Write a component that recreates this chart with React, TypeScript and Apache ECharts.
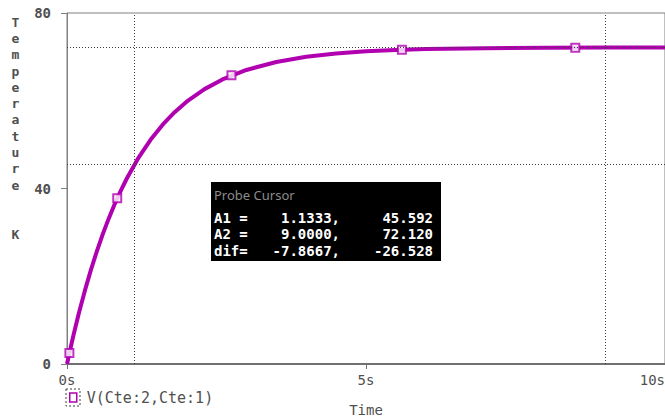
import React, { useEffect, useRef } from "react";
import * as echarts from "echarts";

// Time (s) and temperature (K)
const timeS = [0, 0.1, 0.2, 0.3, 0.4, 0.5, 0.6, 0.7, 0.8, 0.9, 1.0, 1.2, 1.4, 1.6, 1.8, 2.0, 2.3, 2.6, 3.0, 3.5, 4.0, 4.5, 5.0, 5.5, 6.0, 7.0, 8.0, 9.0, 10.0];
const tempK = [0, 6.09, 11.67, 16.77, 21.45, 25.73, 29.65, 33.24, 36.52, 39.53, 42.28, 47.11, 51.16, 54.55, 57.4, 59.78, 62.65, 64.86, 67.02, 68.84, 70.01, 70.77, 71.26, 71.57, 71.77, 71.98, 72.07, 72.12, 72.13];

// Marker squares on the trace
const markerTime = [0.04, 0.84, 2.75, 5.6, 8.5];
const markerTemp = [2.5, 37.8, 65.8, 71.6, 72.1];

// Probe cursor readings [time, temperature]
const cursorA1 = [1.1333, 45.592];
const cursorA2 = [9.0, 72.12];

const xTicks = [0, 5, 10];
const yTicks = [0, 40, 80];
const seriesName = "V(Cte:2,Cte:1)";
const yTitle = "Temperature\u0020K";

const MONO = "'DejaVu Sans Mono', monospace";
const TEXT = "#505050";
const TRACE = "#b000b0";

export default function App() {
  const ref = useRef<HTMLDivElement>(null);

  useEffect(() => {
    if (!ref.current) return;
    const chart = echarts.init(ref.current, null, { renderer: "svg" });

    const dif = [cursorA1[0] - cursorA2[0], cursorA1[1] - cursorA2[1]];
    const rows = [
      ["A1 =", cursorA1[0].toFixed(4) + ",", cursorA1[1].toFixed(3)],
      ["A2 =", cursorA2[0].toFixed(4) + ",", cursorA2[1].toFixed(3)],
      ["dif=", dif[0].toFixed(4) + ",", dif[1].toFixed(3)],
    ];
    const rowY = [218, 234, 251];

    const titleChars = yTitle.replace(" ", "\n").split("").join("\n");

    const boxTexts: any[] = [];
    rows.forEach((r, i) => {
      boxTexts.push({
        type: "text", x: 214, y: rowY[i],
        style: { text: r[0], fill: "#fff", font: `bold 14px ${MONO}`, textVerticalAlign: "middle", textAlign: "left" },
      });
      boxTexts.push({
        type: "text", x: 340, y: rowY[i],
        style: { text: r[1], fill: "#fff", font: `bold 14px ${MONO}`, textVerticalAlign: "middle", textAlign: "right" },
      });
      boxTexts.push({
        type: "text", x: 433, y: rowY[i],
        style: { text: r[2], fill: "#fff", font: `bold 14px ${MONO}`, textVerticalAlign: "middle", textAlign: "right" },
      });
    });

    chart.setOption({
      animation: false,
      backgroundColor: "#fff",
      grid: {
        left: 67, right: 0, top: 13, bottom: 55,
        show: true, borderColor: "#808080", borderWidth: 1,
        outerBoundsMode: "none",
      },
      legend: {
        left: 69, top: 390, padding: 0,
        itemWidth: 7, itemHeight: 9,
        data: [{ name: seriesName, icon: "rect", itemStyle: { color: "#fff", borderColor: TRACE, borderWidth: 1.5 } }],
        textStyle: { fontFamily: MONO, fontSize: 15, color: TEXT, padding: [0, 0, 0, 5] },
        selectedMode: false,
      },
      xAxis: {
        type: "value", min: xTicks[0], max: xTicks[xTicks.length - 1], interval: xTicks[1] - xTicks[0],
        name: "Time", nameLocation: "middle", nameGap: 39,
        nameTextStyle: { fontFamily: MONO, fontSize: 14, color: TEXT, lineHeight: 14 },
        axisLine: { show: true, lineStyle: { color: "#707070", width: 2 } },
        axisTick: { show: true, length: 5, lineStyle: { color: "#707070" } },
        axisLabel: { formatter: (v: number) => `${v}s`, fontFamily: MONO, fontSize: 14, color: TEXT, margin: 9, alignMaxLabel: "right", showMaxLabel: true, showMinLabel: true },
        splitLine: { show: false },
      },
      yAxis: {
        type: "value", min: yTicks[0], max: yTicks[yTicks.length - 1], interval: yTicks[1] - yTicks[0],
        axisLine: { show: true, lineStyle: { color: "#808080", width: 1 } },
        axisTick: { show: true, length: 6, lineStyle: { color: "#808080" } },
        axisLabel: { fontFamily: MONO, fontSize: 14, fontWeight: "bold", color: TEXT, margin: 16 },
        splitLine: { show: false },
      },
      graphic: [
        {
          type: "text", x: 15.5, y: 14,
          style: { text: titleChars, font: `bold 13px ${MONO}`, fill: TEXT, textAlign: "center", lineHeight: 16.3 },
        },
        {
          type: "rect", shape: { x: 66, y: 389, width: 14, height: 17 },
          style: { fill: "none", stroke: "#404040", lineWidth: 1, lineDash: [2, 2] },
        },
        {
          type: "rect", shape: { x: 211, y: 182, width: 230, height: 79 },
          style: { fill: "#000" },
        },
        {
          type: "text", x: 214, y: 195,
          style: { text: "Probe Cursor", font: "13px 'Noto Sans', sans-serif", fill: "#8c8c8c", textVerticalAlign: "middle" },
        },
        ...boxTexts,
      ],
      series: [
        {
          type: "line", name: "cursors", z: 1, data: [], silent: true,
          markLine: {
            silent: true, symbol: ["none", "none"], label: { show: false },
            lineStyle: { type: [1, 2], color: "#404040", width: 1 },
            data: [
              { xAxis: cursorA1[0] }, { xAxis: cursorA2[0] },
              { yAxis: cursorA1[1] }, { yAxis: cursorA2[1] },
            ],
          },
        },
        {
          type: "line", name: seriesName, z: 3,
          data: timeS.map((t, i) => [t, tempK[i]]),
          showSymbol: false, smooth: false,
          lineStyle: { color: TRACE, width: 4 },
          itemStyle: { color: TRACE },
        },
        {
          type: "scatter", name: "markers", z: 4,
          data: markerTime.map((t, i) => [t, markerTemp[i]]),
          symbol: "rect", symbolSize: 8,
          itemStyle: { color: "#fff", borderColor: TRACE, borderWidth: 2 },
        },
      ],
    });

    return () => chart.dispose();
  }, []);

  return <div ref={ref} style={{ position: "fixed", left: 0, top: 0, width: 665, height: 419 }} />;
}
